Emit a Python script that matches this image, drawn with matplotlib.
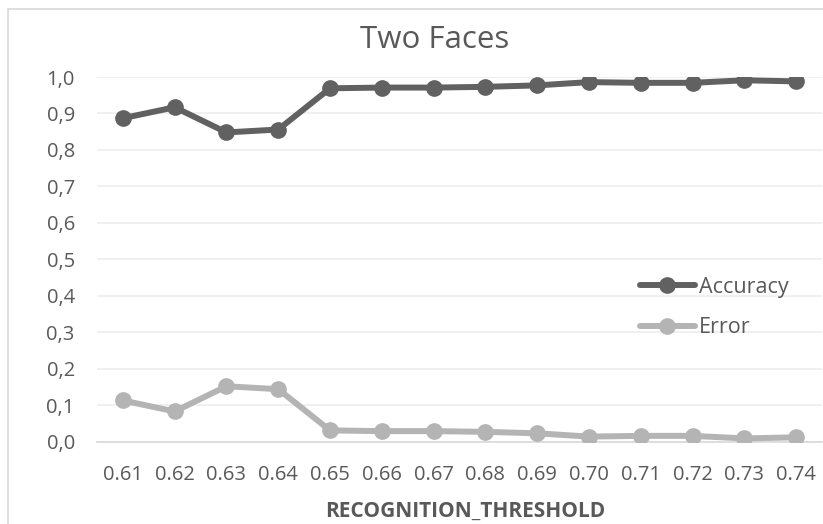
import matplotlib.pyplot as plt
from matplotlib.patches import Rectangle

# Data
thresholds = ['0.61', '0.62', '0.63', '0.64', '0.65', '0.66', '0.67',
              '0.68', '0.69', '0.70', '0.71', '0.72', '0.73', '0.74']
accuracy = [0.887, 0.917, 0.848, 0.856, 0.969, 0.971, 0.971,
            0.973, 0.977, 0.986, 0.984, 0.984, 0.991, 0.988]
error = [0.113, 0.083, 0.152, 0.144, 0.031, 0.029, 0.029,
         0.027, 0.023, 0.014, 0.016, 0.016, 0.009, 0.012]
yticks = [0.0, 0.1, 0.2, 0.3, 0.4, 0.5, 0.6, 0.7, 0.8, 0.9, 1.0]

plt.rcParams['font.family'] = ['Open Sans', 'DejaVu Sans']
text_col = '#595959'
c_acc = '#616161'
c_err = '#b4b4b4'

W, H = 823, 524
fig = plt.figure(figsize=(W / 100, H / 100), dpi=100)

# chart border (light grey, cut off at right/bottom)
fig.patches.append(Rectangle((8 / W, -0.1), 1.2, 1.1 - 9 / H,
                             transform=fig.transFigure, fill=False,
                             edgecolor='#d9d9d9', linewidth=1.2))

ax = fig.add_axes([97 / W, 1 - 441.7 / H, 725 / W, 364.7 / H])
xx = list(range(len(thresholds)))

ax.plot(xx, accuracy, color=c_acc, lw=4.3, marker='o', ms=11,
        label='Accuracy', solid_capstyle='round')
ax.plot(xx, error, color=c_err, lw=4.3, marker='o', ms=11,
        label='Error', solid_capstyle='round')

ax.set_xlim(-0.5, len(thresholds) - 0.5)
ax.set_ylim(0, 1.0)
ax.set_xticks(xx)
ax.set_xticklabels(thresholds)
ax.set_yticks(yticks)
ax.set_yticklabels([('%.1f' % v).replace('.', ',') for v in yticks])
ax.tick_params(length=0, labelsize=14.5, colors=text_col)
ax.tick_params(axis='y', pad=16)
ax.tick_params(axis='x', pad=17)

ax.grid(axis='y', color='#eeeeee', lw=1.2)
ax.set_axisbelow(True)
for s in ['top', 'right', 'left']:
    ax.spines[s].set_visible(False)
ax.spines['bottom'].set_color('#d9d9d9')
ax.spines['bottom'].set_linewidth(1.2)
ax.spines['bottom'].set_zorder(1)

fig.text(435 / W, 1 - 48.3 / H, 'Two Faces', ha='center', va='baseline',
         fontsize=22.5, color=text_col)
fig.text(465 / W, 1 - 516.7 / H, 'RECOGNITION_THRESHOLD', ha='center',
         va='baseline', fontsize=15, fontweight='bold', color=text_col)

ax.legend(loc='center left', bbox_to_anchor=(640 / W, 1 - 307.5 / H),
          bbox_transform=fig.transFigure, frameon=False, fontsize=15.5,
          labelcolor=text_col, handlelength=2.55, handletextpad=0.2,
          borderpad=0, borderaxespad=0, labelspacing=0.9)

fig.savefig('out.png', dpi=100)
